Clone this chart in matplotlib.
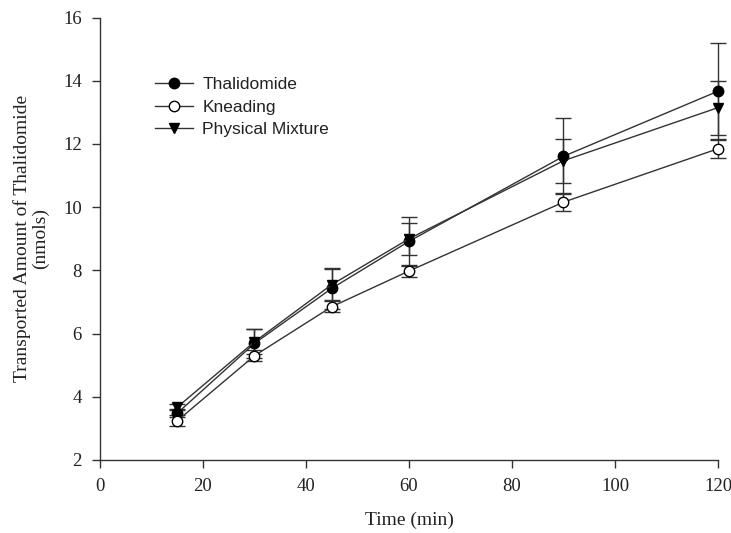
import matplotlib
matplotlib.use("Agg")
import matplotlib.pyplot as plt

time = [15, 30, 45, 60, 90, 120]
thal = [3.48, 5.69, 7.43, 8.92, 11.61, 13.67]
thal_err = [0.12, 0.45, 0.65, 0.77, 1.2, 1.53]
knead = [3.24, 5.30, 6.85, 7.98, 10.16, 11.85]
knead_err = [0.17, 0.17, 0.17, 0.2, 0.28, 0.3]
pm = [3.67, 5.74, 7.55, 9.0, 11.47, 13.15]
pm_err = [0.1, 0.4, 0.5, 0.5, 0.7, 0.85]

xticks = [0, 20, 40, 60, 80, 100, 120]
yticks = [2, 4, 6, 8, 10, 12, 14, 16]

fig = plt.figure(figsize=(7.31, 5.33), dpi=100)
ax = fig.add_axes([0.1368, 0.137, 0.8454, 0.830])

lc = "#333333"
common = dict(color=lc, ecolor=lc, elinewidth=1, capsize=6, capthick=1, lw=1, markersize=7.5)
series = [
    (thal, thal_err, "o", "black", "Thalidomide"),
    (knead, knead_err, "o", "white", "Kneading"),
    (pm, pm_err, "v", "black", "Physical Mixture"),
]
for y, e, m, fc, lab in series:
    cont = ax.errorbar(time, y, yerr=e, marker=m, mfc=fc, mec="black", label=lab, **common)
    for art in [cont[0], *cont[1], *cont[2]]:
        art.set_clip_on(False)

ax.set_xlim(0, 120)
ax.set_ylim(2, 16)
ax.set_xticks(xticks)
ax.set_yticks(yticks)
for s in ["top", "right"]:
    ax.spines[s].set_visible(False)
for s in ["left", "bottom"]:
    ax.spines[s].set_color("#333333")
    ax.spines[s].set_linewidth(1)
ax.tick_params(direction="out", length=6, width=1, color="#333333", pad=7)
for lbl in ax.get_xticklabels() + ax.get_yticklabels():
    lbl.set_family("Liberation Serif")
    lbl.set_fontsize(13.5)
    lbl.set_color("#222222")
ax.set_xlabel("Time (min)", family="Liberation Serif", fontsize=14, color="#222222", labelpad=12)
ax.set_ylabel("Transported Amount of Thalidomide\n(nmols)", family="Liberation Serif", fontsize=14,
              color="#222222", labelpad=10, linespacing=1.1)

handles, labels = ax.get_legend_handles_labels()
handles = [h[0] for h in handles]
leg = ax.legend(handles, labels, loc="upper left", bbox_to_anchor=(0.077, 0.881), frameon=False,
                prop={"family": "Liberation Sans", "size": 12.5}, handlelength=2.2, handletextpad=0.55,
                labelspacing=0.42, borderaxespad=0)
for t in leg.get_texts():
    t.set_color("#222222")

fig.savefig("out.png", dpi=100)
